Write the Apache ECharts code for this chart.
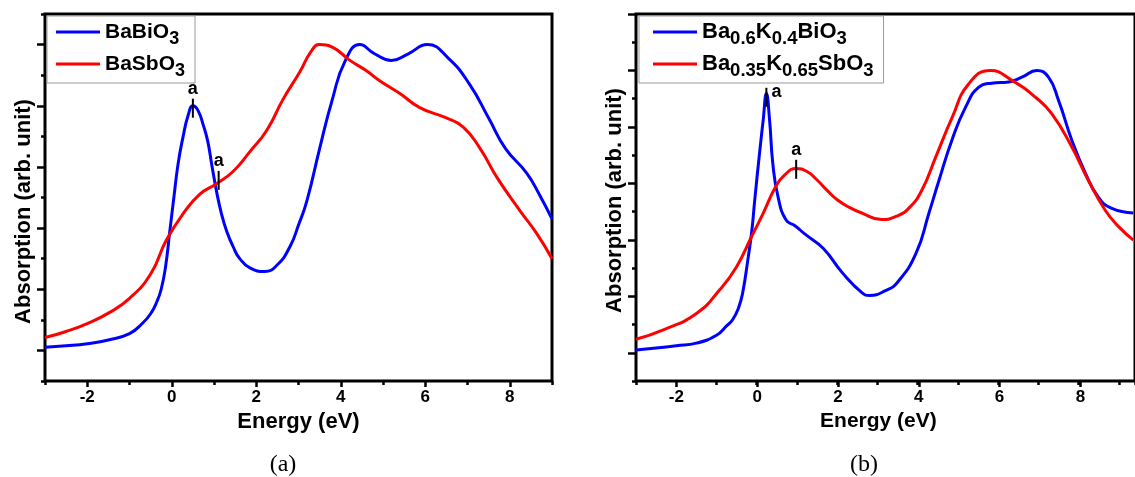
<!DOCTYPE html>
<html>
<head>
<meta charset="utf-8">
<title>Absorption spectra</title>
<script src="https://cdn.jsdelivr.net/npm/echarts@6/dist/echarts.min.js"></script>
<style>
  html, body { margin: 0; padding: 0; background: #fff; }
  #chart { width: 1135px; height: 477px; }
</style>
</head>
<body>
<div id="chart"></div>
<script>
// ---- data (energy in eV, absorption in arb. unit) ----
// panel (a)
const aBlueX = [-3, -2.5, -2, -1.5, -1, -0.7, -0.5, -0.35, -0.25, -0.15, -0.05, 0.05, 0.15, 0.27, 0.39, 0.5, 0.62, 0.75, 0.85, 0.95, 1.06, 1.18, 1.3, 1.45, 1.61, 1.85, 2.2, 2.5, 2.8, 3.0, 3.2, 3.5, 3.8, 4.1, 4.45, 4.8, 5.2, 5.6, 6.05, 6.55, 7.05, 7.5, 7.9, 8.4, 8.7, 9.0]
const aBlueY = [0.1, 0.15, 0.22, 0.34, 0.55, 0.88, 1.2, 1.6, 2.0, 2.7, 3.85, 5.0, 6.1, 7.0, 7.7, 8.0, 7.85, 7.35, 6.85, 6.05, 5.2, 4.45, 3.9, 3.4, 3.0, 2.7, 2.58, 2.8, 3.4, 4.1, 4.9, 6.6, 8.2, 9.45, 10.0, 9.7, 9.48, 9.7, 10.0, 9.55, 8.7, 7.6, 6.6, 5.8, 5.1, 4.3]
const aRedX = [-3, -2.5, -2, -1.5, -1, -0.5, -0.13, 0.27, 0.66, 1.06, 1.45, 1.85, 2.25, 2.63, 3.03, 3.3, 3.5, 3.81, 4.2, 4.6, 4.92, 5.4, 5.87, 6.5, 6.9, 7.3, 7.7, 8.24, 8.64, 9.0]
const aRedY = [0.42, 0.62, 0.88, 1.22, 1.7, 2.5, 3.6, 4.47, 5.1, 5.45, 5.85, 6.5, 7.2, 8.2, 9.1, 9.78, 10.0, 9.91, 9.5, 9.15, 8.82, 8.4, 7.94, 7.6, 7.3, 6.6, 5.65, 4.57, 3.82, 3.0]
const aMarkX = [0.5, 1.11]
const aMarkY = [7.92, 5.56]

// panel (b)
const bBlueX = [-3, -2.5, -2, -1.5, -1, -0.75, -0.6, -0.45, -0.35, -0.22, -0.12, -0.05, 0.07, 0.16, 0.24, 0.32, 0.4, 0.53, 0.73, 0.95, 1.2, 1.65, 2.13, 2.62, 2.8, 3.2, 3.5, 3.96, 4.28, 4.53, 4.85, 5.19, 5.52, 5.84, 6.26, 6.59, 6.96, 7.25, 7.5, 7.83, 8.17, 8.49, 8.81, 9.36]
const bBlueY = [0.1, 0.17, 0.25, 0.34, 0.62, 0.95, 1.17, 1.6, 2.12, 3.3, 4.35, 5.4, 7.07, 8.23, 9.18, 8.23, 6.7, 5.52, 4.7, 4.5, 4.2, 3.7, 2.83, 2.12, 2.03, 2.2, 2.5, 3.53, 4.95, 6.11, 7.53, 8.7, 9.41, 9.55, 9.59, 9.76, 10.0, 9.76, 8.94, 7.53, 6.35, 5.51, 5.12, 4.95]
const bRedX = [-3, -2.32, -1.49, -0.92, -0.5, -0.13, 0.16, 0.47, 0.69, 0.98, 1.25, 1.5, 1.75, 2.0, 2.3, 2.63, 3.1, 3.5, 3.8, 4.1, 4.45, 4.86, 5.27, 5.81, 6.34, 6.92, 7.33, 7.83, 8.24, 8.66, 9.0, 9.36]
const bRedY = [0.48, 0.81, 1.4, 2.23, 3.05, 4.11, 4.94, 5.88, 6.29, 6.53, 6.42, 6.12, 5.75, 5.42, 5.15, 4.94, 4.72, 4.85, 5.15, 5.75, 6.94, 8.35, 9.53, 10.0, 9.65, 9.06, 8.47, 7.29, 6.11, 5.05, 4.46, 3.99]
const bMarkX = [0.24, 0.98]
const bMarkY = [9.05, 6.5]

const namesA = ['BaBiO3', 'BaSbO3']
const namesB = ['Ba0.6K0.4BiO3', 'Ba0.35K0.65SbO3']
// legend text with subscripts (rich text)
const legendText = {
  'BaBiO3': 'BaBiO{s|3}',
  'BaSbO3': 'BaSbO{s|3}',
  'Ba0.6K0.4BiO3': 'Ba{s|0.6}K{s|0.4}BiO{s|3}',
  'Ba0.35K0.65SbO3': 'Ba{s|0.35}K{s|0.65}SbO{s|3}'
}
const xLabel = 'Energy (eV)'
const yLabel = 'Absorption (arb. unit)'
const captions = ['(a)', '(b)']

const FONT = '"Liberation Sans", Arial, sans-serif'
const BLUE = '#0000ff'
const RED = '#ff0000'

const zip = (xs, ys) => xs.map((x, i) => [x, ys[i]])

// minor (main) axes: every integer, short ticks
function minorX(grid, max) {
  return {
    type: 'value', gridIndex: grid, min: -3, max: max, interval: 1,
    axisLine: { show: false, onZero: false },
    axisTick: { show: true, inside: false, length: 4, lineStyle: { color: '#000', width: 2.5 } },
    axisLabel: { show: false }, splitLine: { show: false }
  }
}
function minorY(grid, max, namePad) {
  return {
    type: 'value', gridIndex: grid, min: -1, max: max, interval: 1,
    axisLine: { show: false, onZero: false },
    axisTick: { show: true, length: 4, lineStyle: { color: '#000', width: 2.5 } },
    axisLabel: { show: false }, splitLine: { show: false },
    name: yLabel, nameLocation: 'middle', nameGap: 10,
    nameTextStyle: { fontFamily: FONT, fontSize: 22, fontWeight: 'bold', color: '#000', padding: namePad }
  }
}
// major axes: longer ticks every 2 units, labels on x
function majorX(grid, off, nameSize) {
  return {
    type: 'value', gridIndex: grid, min: -2, max: 8, interval: 2, offset: off,
    axisLine: { show: false, onZero: false },
    axisTick: { show: true, length: 6, lineStyle: { color: '#000', width: 2.5 } },
    axisLabel: { show: true, margin: 8, fontFamily: FONT, fontSize: 17, fontWeight: 'bold', color: '#000' },
    splitLine: { show: false },
    name: xLabel, nameLocation: 'middle', nameGap: 27,
    nameTextStyle: { fontFamily: FONT, fontSize: nameSize, fontWeight: 'bold', color: '#000' }
  }
}
function majorY(grid, max, off) {
  return {
    type: 'value', gridIndex: grid, min: 0, max: max, interval: 2, offset: off,
    axisLine: { show: false, onZero: false },
    axisTick: { show: true, length: 8, lineStyle: { color: '#000', width: 2.5 } },
    axisLabel: { show: false }, splitLine: { show: false }
  }
}

function legendFor(names, left, padLeft, mainSize, subSize, rowH, sub) {
  return {
    left: left, top: 16, orient: 'vertical', data: names,
    formatter: n => legendText[n],
    icon: 'rect', itemWidth: 44, itemHeight: 3, itemGap: 0,
    padding: [0, 10, 3, padLeft],
    borderColor: '#999', borderWidth: 1, borderRadius: 0, backgroundColor: '#fff',
    selectedMode: false,
    textStyle: {
      fontFamily: FONT, fontSize: mainSize, fontWeight: 'bold', color: '#000', lineHeight: rowH,
      rich: { s: { fontFamily: FONT, fontSize: subSize, fontWeight: 'bold', color: '#000', lineHeight: subSize, padding: [sub, 0, 0, 0] } }
    }
  }
}

function curve(name, xi, data, color) {
  return {
    type: 'line', name: name, xAxisIndex: xi, yAxisIndex: xi, data: data,
    symbol: 'none', showSymbol: false, smooth: 0.5, silent: true, z: 3,
    lineStyle: { color: color, width: 3 }, itemStyle: { color: color }
  }
}

const markLabel = { show: true, formatter: 'a', color: '#000', fontFamily: FONT, fontSize: 18, fontWeight: 'bold', textBorderWidth: 0 }
function marks(xi, xs, ys, firstRight) {
  return {
    type: 'scatter', xAxisIndex: xi, yAxisIndex: xi, silent: true, z: 6,
    symbol: 'rect', symbolSize: [2, 19], itemStyle: { color: '#000', opacity: 1 },
    label: Object.assign({ position: 'top', distance: 1 }, markLabel),
    data: xs.map((x, i) => (firstRight && i === 0)
      ? { value: [x, ys[i]], label: Object.assign({ position: 'right', distance: 4, offset: [0, -5] }, markLabel) }
      : { value: [x, ys[i]] })
  }
}

const chart = echarts.init(document.getElementById('chart'), null, { renderer: 'canvas' })
const option = {
  animation: false,
  backgroundColor: '#fff',
  grid: [
    { left: 45, top: 14, width: 507, height: 367, show: true, borderColor: '#000', borderWidth: 3, backgroundColor: 'transparent' },
    { left: 87.25, top: 44.6, width: 422.5, height: 305.8, show: false },
    { left: 636, top: 14, width: 501, height: 367, show: true, borderColor: '#000', borderWidth: 3, backgroundColor: 'transparent' },
    { left: 676.4, top: 14, width: 404, height: 338.77, show: false }
  ],
  xAxis: [minorX(0, 9), majorX(1, 30.6, 22), minorX(2, 9.4), majorX(3, 28.23, 21)],
  yAxis: [minorY(0, 11, [0, 28, 0, 0]), majorY(1, 10, 42.25), minorY(2, 12, [0, 6, 0, 0]), majorY(3, 12, 40.4)],
  legend: [
    legendFor(namesA, 47, 9, 21, 18, 31, 14),
    legendFor(namesB, 639, 14, 22, 18.5, 30, 13)
  ],
  graphic: captions.map((t, i) => ({
    type: 'text', x: i === 0 ? 283 : 864, y: 465,
    style: { text: t, fontFamily: '"Liberation Serif", "Times New Roman", serif', fontSize: 24, fill: '#000', align: 'center', verticalAlign: 'middle', textAlign: 'center', textVerticalAlign: 'middle' }
  })),
  series: [
    curve(namesA[0], 0, zip(aBlueX, aBlueY), BLUE),
    curve(namesA[1], 0, zip(aRedX, aRedY), RED),
    marks(0, aMarkX, aMarkY, false),
    curve(namesB[0], 2, zip(bBlueX, bBlueY), BLUE),
    curve(namesB[1], 2, zip(bRedX, bRedY), RED),
    marks(2, bMarkX, bMarkY, true)
  ]
}
chart.setOption(option)
</script>
</body>
</html>
